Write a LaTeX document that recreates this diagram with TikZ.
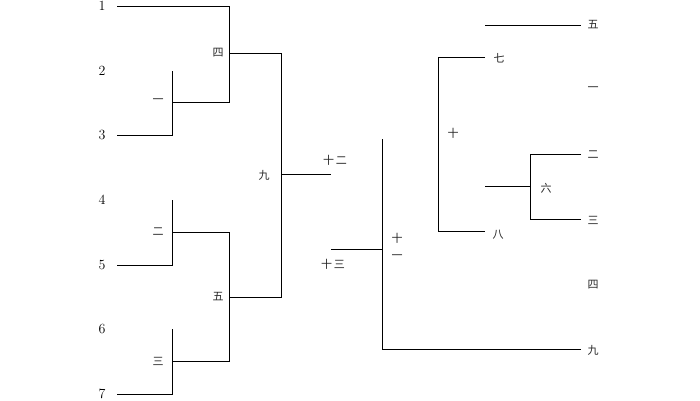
\documentclass[tikz,border=0pt]{standalone}
\usepackage{fontspec}
\newfontfamily\cjk{Noto Sans CJK SC}
\begin{document}
\begin{tikzpicture}[x=1pt,y=-1pt,
  edge/.style={draw=black,line width=0.9pt},
  lab/.style={inner sep=0pt,font=\cjk\fontsize{11}{17}\selectfont,text=black!85},
  leaf/.style={inner sep=0pt,font=\fontsize{14}{14}\selectfont}]
\useasboundingbox (0,0) rectangle (700,400);
% leaves labels
\node[leaf] (n1) at (102,6) {1};
\node[leaf] (n2) at (102,71) {2};
\node[leaf] (n3) at (102,135) {3};
\node[leaf] (n4) at (102,200) {4};
\node[leaf] (n5) at (102,265) {5};
\node[leaf] (n6) at (102,329) {6};
\node[leaf] (n7) at (102,394) {7};
% coordinates left tree
\coordinate (l1s) at (117,6);  \coordinate (l1e) at (229,6);
\coordinate (a1t) at (172,71); \coordinate (a1b) at (172,135);
\coordinate (l3s) at (117,135);
\coordinate (a1m) at (172,102); \coordinate (b1m) at (229,102);
\coordinate (b1t) at (229,53); \coordinate (c1t) at (281,53);
\coordinate (a2t) at (172,200); \coordinate (a2b) at (172,265);
\coordinate (l5s) at (117,265);
\coordinate (a2m) at (172,232); \coordinate (b2m) at (229,232);
\coordinate (a3t) at (172,329); \coordinate (a3b) at (172,394);
\coordinate (l7s) at (117,394);
\coordinate (a3m) at (172,361); \coordinate (b3m) at (229,361);
\coordinate (b2c) at (229,297); \coordinate (c1b) at (281,297);
\coordinate (c1m) at (281,174); \coordinate (d1) at (331,174);
% left tree edges
\draw[edge] (l1s) -- (l1e) -- (b1m) -- (a1m);
\draw[edge] (a1t) -- (a1b) -- (l3s);
\draw[edge] (b1t) -- (c1t) -- (c1b) -- (b2c);
\draw[edge] (a2t) -- (a2b) -- (l5s);
\draw[edge] (a2m) -- (b2m) -- (b3m) -- (a3m);
\draw[edge] (a3t) -- (a3b) -- (l7s);
\draw[edge] (c1m) -- (d1);
% left labels
\node[lab] (s4) at (218,53) {四};
\node[lab] (s1) at (158,101) {一};
\node[lab] (s2) at (158,232) {二};
\node[lab] (s5) at (218,297) {五};
\node[lab] (s3) at (158,361) {三};
\node[lab] (s9) at (264,175) {九};
\node[lab] (s12) at (335,160) {十\,二};
\node[lab] (s13) at (333,264) {十\,三};
\node[lab,align=center] (s11) at (397,246) {十\\一};
% middle
\coordinate (e1) at (331,249); \coordinate (e2) at (382,249);
\coordinate (vt) at (382,139); \coordinate (vb) at (382,349);
\coordinate (r9) at (581,349);
\draw[edge] (e1) -- (e2);
\draw[edge] (vt) -- (vb) -- (r9);
% right tree
\coordinate (f5s) at (485,25); \coordinate (f5e) at (581,25);
\coordinate (g7) at (485,57); \coordinate (g7v) at (438,57);
\coordinate (g8) at (485,231); \coordinate (g8v) at (438,231);
\coordinate (h2) at (581,154); \coordinate (h2v) at (530,154);
\coordinate (h3) at (581,219); \coordinate (h3v) at (530,219);
\coordinate (h6v) at (530,186); \coordinate (h6) at (485,186);
\draw[edge] (f5s) -- (f5e);
\draw[edge] (g7) -- (g7v) -- (g8v) -- (g8);
\draw[edge] (h2) -- (h2v) -- (h3v) -- (h3);
\draw[edge] (h6) -- (h6v);
% right labels
\node[lab] (t5) at (593,25) {五};
\node[lab] (t1) at (593,89) {一};
\node[lab] (t2) at (593,155) {二};
\node[lab] (t3) at (593,220) {三};
\node[lab] (t4) at (593,285) {四};
\node[lab] (t9) at (593,350) {九};
\node[lab] (t7) at (499,58) {七};
\node[lab] (t8) at (498,235) {八};
\node[lab] (t10) at (453,133) {十};
\node[lab] (t6) at (546,188) {六};
\end{tikzpicture}
\end{document}
